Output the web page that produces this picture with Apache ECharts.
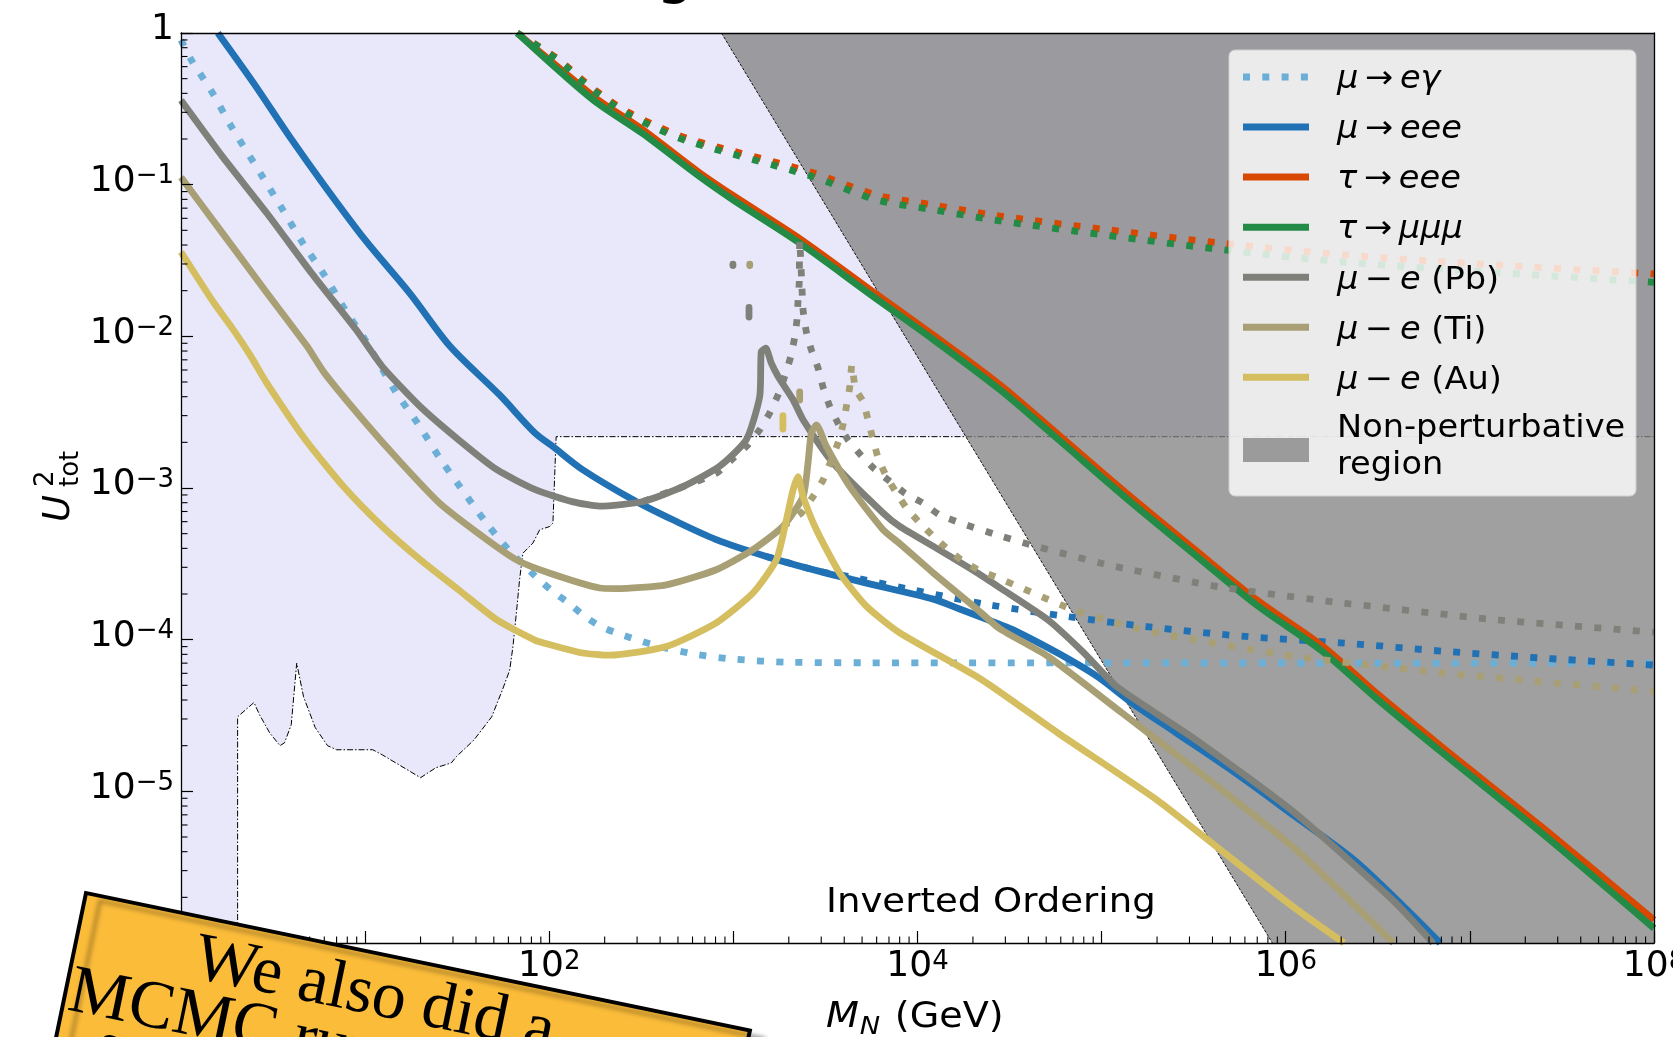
<!DOCTYPE html>
<html>
<head>
<meta charset="utf-8">
<script src="https://cdn.jsdelivr.net/npm/echarts@6/dist/echarts.min.js"></script>
<style>
html,body{margin:0;padding:0;background:#ffffff;overflow:hidden;}
#chart{width:1673px;height:1037px;}
</style>
</head>
<body>
<div id="chart"></div>
<script>
// ===== axis ranges / ticks =====
const xRange = [1, 1e8];
const yRange = [1e-6, 1];
const minorMultipliers = [2, 3, 4, 5, 6, 7, 8, 9];

// ===== curves: [M_N (GeV), U^2_tot] =====
const muEgammaDot = [[1,0.9],[1.135,0.667],[1.48,0.404],[1.876,0.242],[2.77,0.113],[3.57,0.0683],[4.59,0.0412],[6.07,0.0248],[7.77,0.015],[10,0.0095],[14.6,0.00434],[19.5,0.00262],[25.3,0.00159],[32.9,0.00101],[45,0.0006],[60,0.000392],[86,0.000255],[104.5,0.000208],[126,0.000176],[152,0.000146],[184,0.000125],[231,0.000111],[366,9.26e-5],[603,8.07e-5],[995,7.45e-5],[2023,7.1e-5],[5280,7.04e-5],[1.8e4,7.03e-5],[1e8,7.0e-5]];

const muEEE = [[1.585,1.0],[2.48,0.467],[3.88,0.208],[6.07,0.097],[10,0.0432],[17.5,0.0192],[29,0.00856],[53.6,0.00412],[83.8,0.0023],[104.5,0.00188],[152,0.00132],[285,0.000837],[469,0.000617],[807,0.000457],[1510,0.000354],[2945,0.000282],[5280,0.000236],[1.22e4,0.000185],[1.68e4,0.00016],[2.8e4,0.000126],[3.31e4,0.000116],[5.78e4,8.16e-5],[9.42e4,5.74e-5],[1.46e5,3.83e-5],[2.54e5,2.43e-5],[5.33e5,1.32e-5],[1.12e6,6.85e-6],[2.34e6,3.55e-6],[4.35e6,1.75e-6],[6.9e6,1.0e-6]];
const muEEEDot = [[1510,0.000354],[2945,0.000282],[4290,0.00026],[9060,0.000215],[2.43e4,0.00017],[6.53e4,0.000142],[1.75e5,0.000122],[6.03e5,0.000105],[2.07e6,9.5e-5],[7.1e6,8.4e-5],[2.44e7,7.57e-5],[1e8,6.8e-5]];

const tauEEE = [[67,1.0],[117,0.57],[183,0.365],[320,0.232],[655,0.12],[995,0.085],[2290,0.0442],[5740,0.0197],[1.22e4,0.0102],[2.8e4,0.0048],[5.63e4,0.00233],[1.41e5,0.000895],[3.13e5,0.000403],[7.04e5,0.000181],[1.58e6,9.1e-5],[3.16e6,4.37e-5],[7.1e6,1.95e-5],[2.45e7,5.85e-6],[1e8,1.42e-6]];
const tauEEEDot = [[67,1.0],[111,0.675],[163,0.455],[243,0.322],[379,0.245],[576,0.2],[2630,0.121],[5980,0.0855],[1.22e4,0.0735],[2.58e4,0.063],[1.07e5,0.0505],[4.58e5,0.041],[2.06e6,0.0345],[1.03e7,0.0302],[1e8,0.0258]];

const tauMuMuMu = [[67,1.0],[117,0.543],[183,0.344],[320,0.218],[655,0.113],[995,0.0794],[2290,0.0412],[5740,0.0183],[1.22e4,0.0095],[2.8e4,0.00445],[5.63e4,0.00216],[1.41e5,0.000826],[3.13e5,0.000372],[7.04e5,0.000167],[1.58e6,8.38e-5],[3.16e6,4.02e-5],[7.1e6,1.79e-5],[2.45e7,5.32e-6],[1e8,1.25e-6]];
const tauMuMuMuDot = [[67,1.0],[111,0.665],[163,0.443],[243,0.312],[379,0.236],[576,0.192],[2630,0.114],[5980,0.0794],[1.22e4,0.0683],[2.58e4,0.0586],[1.07e5,0.0463],[4.58e5,0.0372],[2.06e6,0.0309],[1.03e7,0.027],[1e8,0.0227]];

const convPb = [[1,0.36],[1.68,0.153],[2.93,0.0648],[5.13,0.026],[8.96,0.011],[12.4,0.00632],[19.9,0.00345],[32.2,0.00208],[52,0.00132],[84,0.000975],[135,0.00081],[187,0.00076],[323,0.000815],[532,0.00102],[841,0.00139],[1175,0.00208],[1390,0.00401],[1418,0.00794],[1500,0.00835],[1607,0.00665],[1750,0.00544],[2110,0.00382],[2390,0.00282],[3480,0.00146],[6500,0.000684],[8010,0.000558],[1.22e4,0.000412],[2.02e4,0.000285],[2.8e4,0.00022],[5.11e4,0.000135],[8.0e4,8.2e-5],[1.21e5,4.9e-5],[3.25e5,2.19e-5],[1.12e6,7.2e-6],[3.84e6,1.9e-6],[6.3e6,1.0e-6]];
const convPbDot = [[323,0.000815],[532,0.00102],[807,0.00125],[1016,0.0016],[1202,0.00193],[1390,0.00242],[1574,0.00312],[1750,0.00412],[1900,0.00544],[2050,0.00736],[2150,0.00975],[2217,0.013],[2244,0.017],[2280,0.023],[2291,0.0432],[2390,0.015],[2490,0.0107],[2650,0.00815],[2884,0.00617],[3070,0.00462],[3337,0.00345],[3700,0.00268],[4190,0.00208],[4960,0.00163],[5850,0.00133],[7060,0.00111],[8530,0.000927],[1.07e4,0.000796],[1.31e4,0.000667],[1.7e4,0.00059],[2.58e4,0.000499],[4.11e4,0.000422],[1.07e5,0.000312],[4.43e5,0.000222],[2.07e6,0.000174],[1.32e7,0.000136],[1e8,0.000112]];

const convTi = [[1,0.112],[1.68,0.0479],[2.93,0.0193],[4.85,0.00856],[6.02,0.00572],[9.72,0.00282],[15.7,0.00146],[25.3,0.000796],[40.9,0.000505],[66,0.000337],[100,0.000275],[188,0.000219],[231,0.000217],[432,0.00023],[807,0.000289],[1277,0.000392],[1858,0.000558],[2390,0.000879],[2543,0.00146],[2650,0.0023],[2824,0.00261],[3200,0.00188],[4290,0.00102],[6500,0.000531],[8010,0.00043],[1.22e4,0.000275],[2.02e4,0.000166],[2.8e4,0.000118],[5.11e4,7.76e-5],[1.29e5,3.29e-5],[3.25e5,1.39e-5],[1.12e6,4.2e-6],[3.84e6,1.0e-6]];
const convTiDot = [[1858,0.000558],[2340,0.000684],[2710,0.000879],[3070,0.00113],[3700,0.00198],[3940,0.00261],[4110,0.00345],[4290,0.00467],[4400,0.0065],[4600,0.0045],[5060,0.00372],[5390,0.00282],[5740,0.00208],[6110,0.00158],[6780,0.00119],[7690,0.000927],[8710,0.000738],[1.03e4,0.000587],[1.22e4,0.00048],[1.47e4,0.000392],[1.77e4,0.000328],[2.22e4,0.000282],[2.75e4,0.000255],[6.95e4,0.000158],[1.75e5,0.000114],[1.12e6,7.76e-5],[7.1e6,6.04e-5],[1e8,4.55e-5]];

const convAu = [[1,0.036],[1.5,0.0168],[1.91,0.0112],[2.36,0.0076],[2.93,0.0049],[4.74,0.00208],[7.65,0.00102],[12.4,0.000558],[19.9,0.000337],[32.2,0.000213],[52,0.000135],[84,9.9e-5],[100,9.3e-5],[149,8.2e-5],[212,7.9e-5],[432,9.0e-5],[807,0.000129],[1277,0.000203],[1714,0.000337],[1940,0.000617],[2110,0.000973],[2244,0.00119],[2390,0.000879],[2824,0.000531],[3780,0.000275],[5280,0.000166],[8010,0.000111],[2.24e4,5.44e-5],[5.78e4,2.43e-5],[1.99e5,8.8e-6],[4.17e5,4.35e-6],[1.12e6,1.7e-6],[2.07e6,1.0e-6]];

// short isolated dashes of the dotted curves: [M, U low, U high, colour index]
const fragments = [[995,0.0293,0.0299,0],[1227,0.0293,0.0299,1],[1216,0.0134,0.0155,0],[2291,0.0038,0.0043,1],[1858,0.00245,0.0030,2]];

// excluded (lavender) region boundary and non-perturbative diagonal
const excludedBoundary = [[2.03,1e-6],[2.03,3.1e-5],[2.49,3.85e-5],[2.67,3.2e-5],[3.03,2.43e-5],[3.45,2.0e-5],[3.65,2.09e-5],[3.97,2.75e-5],[4.25,7.0e-5],[4.63,4.2e-5],[5.36,2.63e-5],[6.25,2.0e-5],[7.0,1.88e-5],[11,1.88e-5],[12.4,1.74e-5],[20,1.23e-5],[24.2,1.43e-5],[29.4,1.54e-5],[31.4,1.7e-5],[39,2.18e-5],[48.7,3.1e-5],[55.8,4.7e-5],[61,6.3e-5],[63.5,9.0e-5],[66.3,1.5e-4],[69,2.48e-4],[71.9,3.71e-4],[81.5,4.33e-4],[88.7,5.3e-4],[100.5,5.57e-4],[104.7,5.86e-4],[109,2.18e-3],[1e8,2.18e-3]];
const nonPertDiag = [[861,1],[8.46e5,1e-6]];

// legend labels
const TS = '\u2009';
const legendLabels = ['{i|μ}{n|' + TS + '→' + TS + '}{i|eγ}','{i|μ}{n|' + TS + '→' + TS + '}{i|eee}','{i|τ}{n|' + TS + '→' + TS + '}{i|eee}','{i|τ}{n|' + TS + '→' + TS + '}{i|μμμ}','{i|μ}{n|' + TS + '−' + TS + '}{i|e}{n| (Pb)}','{i|μ}{n|' + TS + '−' + TS + '}{i|e}{n| (Ti)}','{i|μ}{n|' + TS + '−' + TS + '}{i|e}{n| (Au)}'];

// ===== styling =====
const C = {lb:'#6baed6', blue:'#2171b5', red:'#d94801', green:'#238b45', pb:'#80807a', ti:'#a89f74', au:'#d4be60'};
const fragColors = [C.pb, C.ti, C.au];
const legendColors = [C.lb, C.blue, C.red, C.green, C.pb, C.ti, C.au];
const FONT = 'DejaVu Sans';
const LW = 6.8;
const DOT = [7, 12.3];

function lineSeries(name, data, color, dotted, smooth) {
  return {
    type: 'line', name: name, data: data, symbol: 'none', showSymbol: false,
    silent: true, animation: false, z: 3, clip: true,
    smooth: smooth,
    lineStyle: {color: color, width: LW, type: dotted ? DOT : 'solid', cap: 'butt', join: 'round', opacity: 1},
    emphasis: {disabled: true}
  };
}

const RICH = {
  b: {fontFamily: FONT, fontSize: 36, lineHeight: 36, color: '#000', verticalAlign: 'bottom', padding: [6, 0, 0, 0]},
  s: {fontFamily: FONT, fontSize: 26, lineHeight: 26, color: '#000', verticalAlign: 'top'}
};
function expLabel(e) {
  return '{b|10}{s|' + (e < 0 ? '\u2212' : '') + Math.abs(e) + '}';
}

const xMinorTicks = [];
for (let e = 0; e < 8; e++) minorMultipliers.forEach(k => xMinorTicks.push(k * Math.pow(10, e)));
const yMinorTicks = [];
for (let e = -6; e < 0; e++) minorMultipliers.forEach(k => yMinorTicks.push(k * Math.pow(10, e)));

// ===== graphic overlays =====
const LEGRICH = {
  i: {fontFamily: FONT, fontStyle: 'italic', fontSize: 32, fill: '#000', color: '#000'},
  n: {fontFamily: FONT, fontSize: 32, fill: '#000', color: '#000'}
};
const graphics = [];
graphics.push({type: 'rect', z: 100, shape: {x: 1229, y: 50, width: 407, height: 446, r: 6},
  style: {fill: 'rgba(255,255,255,0.8)', stroke: '#cfcfcf', lineWidth: 1}});
legendLabels.forEach((t, i) => {
  const y = 77 + i * 50.05;
  graphics.push({type: 'line', z: 101, shape: {x1: 1243, y1: y, x2: 1309, y2: y},
    style: {stroke: legendColors[i], lineWidth: 7, lineDash: i === 0 ? DOT : null, lineCap: 'butt'}});
  graphics.push({type: 'text', z: 101, x: 1337, y: y + 3, scaleX: 1.05,
    style: {text: t, rich: LEGRICH, font: '32px "DejaVu Sans"', fill: '#000', align: 'left', verticalAlign: 'middle', textAlign: 'left', textVerticalAlign: 'middle'}});
});
graphics.push({type: 'rect', z: 101, shape: {x: 1243, y: 438, width: 66, height: 24}, style: {fill: 'rgba(128,128,128,0.75)'}});
graphics.push({type: 'text', z: 101, x: 1337, y: 429, scaleX: 1.05,
  style: {text: 'Non-perturbative', font: '32px "DejaVu Sans"', fill: '#000', verticalAlign: 'middle', textVerticalAlign: 'middle'}});
graphics.push({type: 'text', z: 101, x: 1337, y: 466, scaleX: 1.05,
  style: {text: 'region', font: '32px "DejaVu Sans"', fill: '#000', verticalAlign: 'middle', textVerticalAlign: 'middle'}});

// annotation inside plot
graphics.push({type: 'text', z: 50, x: 826, y: 903, scaleX: 1.09,
  style: {text: 'Inverted Ordering', font: '34px "DejaVu Sans"', fill: '#000', verticalAlign: 'middle', textVerticalAlign: 'middle'}});

// slide title (only its descender is visible)
graphics.push({type: 'text', z: 50, x: 694, y: -25,
  style: {text: 'Inverted Ordering', font: '60px "DejaVu Sans"', fill: '#000', align: 'right', textAlign: 'right', verticalAlign: 'middle', textVerticalAlign: 'middle'}});

// x axis title
graphics.push({type: 'group', x: 826, y: 0, scaleX: 1.09, z: 50, children: [
  {type: 'text', z: 50, x: 0, y: 1018, style: {text: 'M', font: 'italic 35px "DejaVu Sans"', fill: '#000', verticalAlign: 'middle', textVerticalAlign: 'middle'}},
  {type: 'text', z: 50, x: 31, y: 1027, style: {text: 'N', font: 'italic 25px "DejaVu Sans"', fill: '#000', verticalAlign: 'middle', textVerticalAlign: 'middle'}},
  {type: 'text', z: 50, x: 52, y: 1018, style: {text: ' (GeV)', font: '35px "DejaVu Sans"', fill: '#000', verticalAlign: 'middle', textVerticalAlign: 'middle'}}
]});

// y axis title
graphics.push({type: 'group', x: 71, y: 522, rotation: Math.PI / 2, z: 50, children: [
  {type: 'text', z: 50, x: 0, y: -12, style: {text: 'U', font: 'italic 37px "DejaVu Sans"', fill: '#000', verticalAlign: 'middle', textVerticalAlign: 'middle'}},
  {type: 'text', z: 50, x: 35, y: -25, style: {text: '2', font: '26px "DejaVu Sans"', fill: '#000', verticalAlign: 'middle', textVerticalAlign: 'middle'}},
  {type: 'text', z: 50, x: 35, y: 0, style: {text: 'tot', font: '26px "DejaVu Sans"', fill: '#000', verticalAlign: 'middle', textVerticalAlign: 'middle'}}
]});

// sticky note
graphics.push({type: 'group', x: 86, y: 893, rotation: -0.2042, z: 200, children: [
  {type: 'rect', z: 200, shape: {x: 0, y: 0, width: 678, height: 420},
    style: {fill: '#fbbc3a', stroke: '#000', lineWidth: 4, shadowBlur: 4, shadowOffsetX: 14, shadowOffsetY: 8, shadowColor: 'rgba(0,0,0,0.28)'}},
  {type: 'text', z: 201, x: 120, y: 43, style: {text: 'We also did a', font: '68px "Liberation Serif"', fill: '#000', verticalAlign: 'middle', textVerticalAlign: 'middle'}},
  {type: 'text', z: 201, x: 4, y: 100, style: {text: 'MCMC run over the', font: '68px "Liberation Serif"', fill: '#000', verticalAlign: 'middle', textVerticalAlign: 'middle'}},
  {type: 'text', z: 201, x: 2, y: 164, style: {text: 'of the parameter space', font: '68px "Liberation Serif"', fill: '#000', verticalAlign: 'middle', textVerticalAlign: 'middle'}}
]});

// ===== chart =====
const chart = echarts.init(document.getElementById('chart'), null, {renderer: 'canvas', width: 1673, height: 1037});

const axisLineStyle = {show: true, onZero: false, lineStyle: {color: '#000', width: 1.3}};

const option = {
  animation: false,
  backgroundColor: '#ffffff',
  textStyle: {fontFamily: FONT},
  grid: {left: 181, top: 33, width: 1473, height: 910, show: false, containLabel: false, outerBoundsMode: 'none'},
  xAxis: [{
    type: 'log', logBase: 10, min: xRange[0], max: xRange[1], splitNumber: 8, z: 10,
    axisLine: axisLineStyle,
    axisTick: {show: true, inside: true, length: 12, lineStyle: {color: '#000', width: 1.2}},
    minorTick: {show: false}, splitLine: {show: false}, minorSplitLine: {show: false},
    axisLabel: {show: true, margin: 6, showMinLabel: true, showMaxLabel: true, rich: RICH,
      formatter: v => { const e = Math.round(Math.log10(v)); return (e % 2 === 0) ? expLabel(e) : ''; }}
  }, {
    type: 'log', logBase: 10, min: xRange[0], max: xRange[1], position: 'top', z: 10,
    axisLine: axisLineStyle, axisTick: {show: false}, axisLabel: {show: false}, splitLine: {show: false}
  }],
  yAxis: [{
    type: 'log', logBase: 10, min: yRange[0], max: yRange[1], splitNumber: 6, z: 10,
    axisLine: axisLineStyle,
    axisTick: {show: true, inside: true, length: 12, lineStyle: {color: '#000', width: 1.2}},
    minorTick: {show: false}, splitLine: {show: false}, minorSplitLine: {show: false},
    axisLabel: {show: true, margin: 7, showMinLabel: true, showMaxLabel: true, rich: RICH, padding: [0, 0, 6, 0],
      formatter: v => { const e = Math.round(Math.log10(v)); return e === 0 ? '{b|1}' : expLabel(e); }}
  }, {
    type: 'log', logBase: 10, min: yRange[0], max: yRange[1], position: 'right', z: 10,
    axisLine: axisLineStyle, axisTick: {show: false}, axisLabel: {show: false}, splitLine: {show: false}
  }],
  series: [
    {
      type: 'custom', coordinateSystem: 'cartesian2d', z: 1, silent: true, animation: false,
      data: [[1e4, 1e-3]],
      renderItem: (params, api) => {
        const c = p => api.coord(p);
        const lavPoly = [[xRange[0], yRange[0]]].concat(excludedBoundary, [[xRange[1], yRange[1]], [xRange[0], yRange[1]]]).map(c);
        const grayPoly = [nonPertDiag[0], nonPertDiag[1], [xRange[1], yRange[0]], [xRange[1], yRange[1]]].map(c);
        return {type: 'group', children: [
          {type: 'polygon', shape: {points: lavPoly}, style: {fill: '#e8e8fa'}},
          {type: 'polyline', shape: {points: excludedBoundary.map(c)}, style: {stroke: '#000', lineWidth: 1, lineDash: [6, 2, 1.5, 2], fill: null}},
          {type: 'polygon', shape: {points: grayPoly}, style: {fill: 'rgba(128,128,128,0.75)'}},
          {type: 'polyline', shape: {points: nonPertDiag.map(c)}, style: {stroke: '#000', lineWidth: 0.9, lineDash: [3, 1.5], fill: null}}
        ]};
      }
    },
    lineSeries('mu_egamma', muEgammaDot, C.lb, true, 0.3),
    lineSeries('mu_eee', muEEE, C.blue, false, 0.3),
    lineSeries('mu_eee_dot', muEEEDot, C.blue, true, 0.3),
    lineSeries('tau_eee', tauEEE, C.red, false, 0.3),
    lineSeries('tau_eee_dot', tauEEEDot, C.red, true, 0.3),
    lineSeries('tau_mumumu', tauMuMuMu, C.green, false, 0.3),
    lineSeries('tau_mumumu_dot', tauMuMuMuDot, C.green, true, 0.3),
    lineSeries('pb', convPb, C.pb, false, 0.2),
    lineSeries('pb_dot', convPbDot, C.pb, true, 0.15),
    lineSeries('ti', convTi, C.ti, false, 0.2),
    lineSeries('ti_dot', convTiDot, C.ti, true, 0.15),
    lineSeries('au', convAu, C.au, false, 0.2),
    {
      type: 'custom', coordinateSystem: 'cartesian2d', z: 3, silent: true, animation: false,
      data: fragments, encode: {x: 0, y: [1, 2]},
      renderItem: (params, api) => {
        const p1 = api.coord([api.value(0), api.value(1)]);
        const p2 = api.coord([api.value(0), api.value(2)]);
        return {type: 'line', shape: {x1: p1[0], y1: p1[1], x2: p2[0], y2: p2[1]},
          style: {stroke: fragColors[api.value(3)], lineWidth: LW, lineCap: 'round'}};
      }
    },
    {
      type: 'custom', coordinateSystem: 'cartesian2d', z: 12, silent: true, animation: false,
      data: xMinorTicks.map(v => [v, yRange[0], 0]).concat(yMinorTicks.map(v => [xRange[0], v, 1])),
      encode: {x: 0, y: 1},
      renderItem: (params, api) => {
        const p = api.coord([api.value(0), api.value(1)]);
        const isY = api.value(2) === 1;
        return {type: 'line',
          shape: isY ? {x1: p[0], y1: p[1], x2: p[0] + 6.5, y2: p[1]} : {x1: p[0], y1: p[1], x2: p[0], y2: p[1] - 6.5},
          style: {stroke: '#000', lineWidth: 1.1}};
      }
    }
  ],
  graphic: graphics
};
chart.setOption(option);
</script>
</body>
</html>
